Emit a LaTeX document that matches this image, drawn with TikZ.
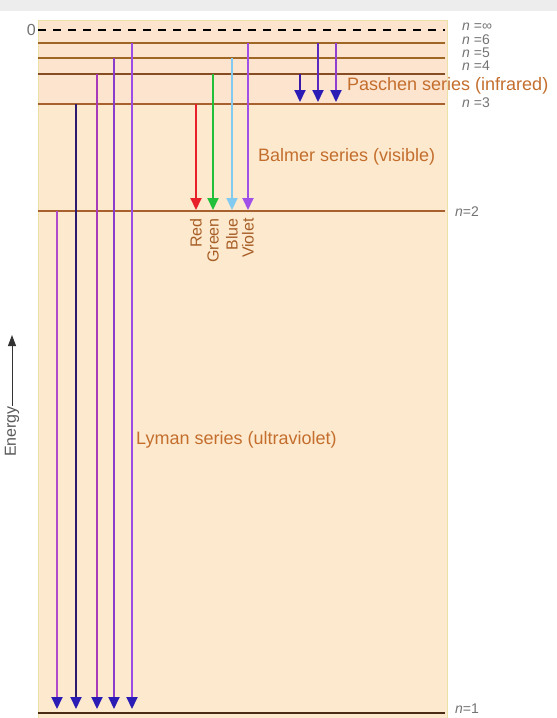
\documentclass[tikz,border=0pt]{standalone}
\usepackage{fontspec}
\setmainfont{Liberation Sans}
\usetikzlibrary{arrows.meta}
\definecolor{topbar}{HTML}{EDEDED}
\definecolor{panel}{HTML}{FDEACE}
\definecolor{panelup}{HTML}{FCE4CF}
\definecolor{panelrim}{HTML}{EBE0A6}
\definecolor{levelbrown}{HTML}{A8602E}
\definecolor{seriestext}{HTML}{C46E2E}
\definecolor{headnavy}{HTML}{2A1CB4}
\definecolor{lyA}{HTML}{B04CCB}
\definecolor{lyB}{HTML}{2E1A6E}
\definecolor{lyC}{HTML}{A83ABA}
\definecolor{lyD}{HTML}{8A3CCB}
\definecolor{lyE}{HTML}{9B4BE6}
\definecolor{baRed}{HTML}{E8202A}
\definecolor{baGreen}{HTML}{22C03A}
\definecolor{baBlue}{HTML}{82CAF0}
\definecolor{baViolet}{HTML}{A050E8}
\definecolor{paA}{HTML}{3A1AA8}
\definecolor{paB}{HTML}{5A2AC0}
\definecolor{paC}{HTML}{9040D0}
\tikzset{
  levelline/.style = {draw=levelbrown, line width=2.2pt},% bound state
  ionised/.style = {draw=black, line width=2pt, dash pattern=on 8pt off 7pt},% n = infinity
  nlabel/.style = {anchor=west, inner sep=0pt, text=black!55,
    font=\fontsize{14}{14}\selectfont},
  series/.style = {anchor=west, inner sep=0pt, text=seriestext,
    font=\fontsize{18}{18}\selectfont},
  colourlbl/.style = {rotate=90, anchor=east, inner sep=0pt, text=seriestext!85!black,
    font=\fontsize{16}{16}\selectfont},
  lyman/.style = {line width=2pt, shorten >=4pt,
    -{Triangle[length=12pt,width=11pt,color=headnavy]}},% to n=1
  balmer/.style = {line width=2pt, shorten >=1pt,
    -{Triangle[length=12pt,width=11pt]}},% to n=2
  paschen/.style = {line width=2pt, shorten >=2pt,
    -{Triangle[length=12pt,width=11pt,color=headnavy]}}% to n=3
}

\begin{document}
\begin{tikzpicture}[x=1pt,y=-1pt]
\useasboundingbox (0,0) rectangle (557,718);
\fill[topbar] (0,0) rectangle (557,11);
\fill[panel] (38,20) rectangle (447,718);
\fill[panelup] (38,20) rectangle (447,104);
\draw[panelrim, line width=0.6pt] (38,20) rectangle (447,718);

% levels, left end
\coordinate (ninf) at (38,30);
\coordinate (n6) at (38,43);
\coordinate (n5) at (38,58);
\coordinate (n4) at (38,74);
\coordinate (n3) at (38,104);
\coordinate (n2) at (38,211);
\coordinate (n1) at (38,713);
\coordinate (rim) at (445,0);

\draw[ionised] (ninf) -- (ninf -| rim);
\draw[levelline, draw=levelbrown!80!olive] (n6) -- (n6 -| rim);
\draw[levelline, draw=levelbrown!80!olive] (n5) -- (n5 -| rim);
\draw[levelline, draw=levelbrown!80!black] (n4) -- (n4 -| rim);
\draw[levelline] (n3) -- (n3 -| rim);
\draw[levelline] (n2) -- (n2 -| rim);
\draw[levelline, draw=levelbrown!45!black] (n1) -- (n1 -| rim);

\node[nlabel, anchor=east, font=\fontsize{16}{16}\selectfont] (zero) at (36,30) {0};
\node[nlabel] (linf) at (462,27) {\textit{n} =∞};
\node[nlabel] (l6) at (462,40) {\textit{n} =6};
\node[nlabel] (l5) at (462,53) {\textit{n} =5};
\node[nlabel] (l4) at (462,66) {\textit{n} =4};
\node[nlabel] (l3) at (462,103) {\textit{n} =3};
\node[nlabel] (l2) at (455,212) {\textit{n}=2};
\node[nlabel] (l1) at (455,709) {\textit{n}=1};

% Lyman
\coordinate (ly2) at (57,0);
\coordinate (ly3) at (76,0);
\coordinate (ly4) at (97,0);
\coordinate (ly5) at (114,0);
\coordinate (ly6) at (132,0);
\draw[lyman, lyA] (ly2 |- n2) -- (ly2 |- n1);
\draw[lyman, lyB] (ly3 |- n3) -- (ly3 |- n1);
\draw[lyman, lyC] (ly4 |- n4) -- (ly4 |- n1);
\draw[lyman, lyD] (ly5 |- n5) -- (ly5 |- n1);
\draw[lyman, lyE] (ly6 |- n6) -- (ly6 |- n1);
\node[series] (lyman) at (136,440) {Lyman series (ultraviolet)};

% Balmer
\coordinate (ba3) at (196,0);
\coordinate (ba4) at (213,0);
\coordinate (ba5) at (232,0);
\coordinate (ba6) at (248,0);
\draw[balmer, baRed] (ba3 |- n3) -- (ba3 |- n2);
\draw[balmer, baGreen] (ba4 |- n4) -- (ba4 |- n2);
\draw[balmer, baBlue] (ba5 |- n5) -- (ba5 |- n2);
\draw[balmer, baViolet] (ba6 |- n6) -- (ba6 |- n2);
\node[series] (balmer) at (258,157) {Balmer series (visible)};
\node[colourlbl] (red) at (196,218) {Red};
\node[colourlbl] (green) at (213,218) {Green};
\node[colourlbl] (blue) at (232,218) {Blue};
\node[colourlbl] (violet) at (248,218) {Violet};

% Paschen
\coordinate (pa4) at (300,0);
\coordinate (pa5) at (318,0);
\coordinate (pa6) at (336,0);
\draw[paschen, paA] (pa4 |- n4) -- (pa4 |- n3);
\draw[paschen, paB] (pa5 |- n6) -- (pa5 |- n3);
\draw[paschen, paC] (pa6 |- n6) -- (pa6 |- n3);
\node[series] (paschen) at (347,86) {Paschen series (infrared)};

% energy axis
\node[nlabel, rotate=90, anchor=west, text=black!65, font=\fontsize{16}{16}\selectfont]
  (energy) at (12,457) {Energy};
\coordinate (energytop) at (12,335);
\draw[black!80, line width=1pt, -{Triangle[length=11pt,width=8pt]}] (energy.east) -- (energytop);
\end{tikzpicture}
\end{document}
